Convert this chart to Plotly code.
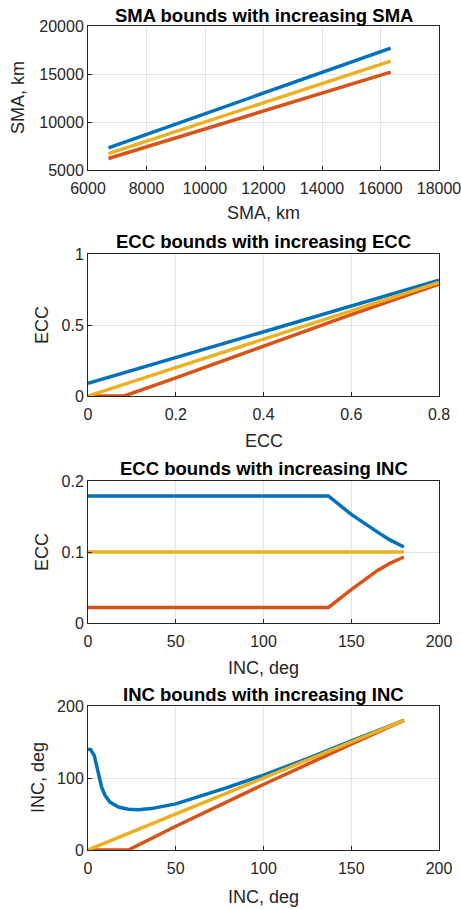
import plotly.graph_objects as go

# ---------------- data ----------------
# Panel 1: SMA bounds with increasing SMA
sma_x = [6700, 16350]
sma_upper = [7300, 17700]
sma_lower = [6200, 15200]
sma_nominal = [6700, 16350]

# Panel 2: ECC bounds with increasing ECC
ecc_x_up = [0.0, 0.2, 0.4, 0.6, 0.8]
ecc_upper = [0.089, 0.27, 0.45, 0.63, 0.815]
ecc_x_low = [0.0, 0.083, 0.2, 0.4, 0.6, 0.8]
ecc_lower = [0.0, 0.0, 0.128, 0.352, 0.573, 0.787]
ecc_x_nom = [0.0, 0.8]
ecc_nominal = [0.0, 0.8]

# Panel 3: ECC bounds with increasing INC
inc3_x = [0, 137, 150, 158, 165, 172, 180]
ecc3_upper = [0.179, 0.179, 0.153, 0.139, 0.128, 0.117, 0.107]
ecc3_lower = [0.022, 0.022, 0.047, 0.062, 0.074, 0.084, 0.093]
inc3_x_nom = [0, 180]
ecc3_nominal = [0.1, 0.1]

# Panel 4: INC bounds with increasing INC
inc4_x_up = [0, 1.5, 3.6, 5, 6.3, 7.8, 9.7, 12.5, 17.3, 23, 28.7, 36, 50, 63, 77, 100, 125, 150, 180]
inc4_upper = [140, 139.5, 131, 117, 101, 87, 76, 66.5, 59.7, 56.6, 56, 57.5, 64, 74, 85, 104, 127, 151.5, 180]
inc4_x_low = [0, 23, 50, 100, 150, 180]
inc4_lower = [0, 0, 33, 91, 147, 180]
inc4_x_nom = [0, 180]
inc4_nominal = [0, 180]

BLUE = "#0072BD"
RED = "#D95319"
YELLOW = "#EDB120"
TXT = "#262626"
LW = 3.5
FONT = "Liberation Sans, Arial, sans-serif"

W, H = 461, 909
panels = [  # top, bottom (pixels)
    (26, 170),
    (254, 396),
    (481, 623),
    (706, 850),
]


def fy(px):
    return 1 - px / H


def fx(px):
    return px / W


fig = go.Figure()

series = [
    [(sma_x, sma_upper, BLUE), (sma_x, sma_lower, RED), (sma_x, sma_nominal, YELLOW)],
    [(ecc_x_up, ecc_upper, BLUE), (ecc_x_low, ecc_lower, RED), (ecc_x_nom, ecc_nominal, YELLOW)],
    [(inc3_x, ecc3_upper, BLUE), (inc3_x, ecc3_lower, RED), (inc3_x_nom, ecc3_nominal, YELLOW)],
    [(inc4_x_up, inc4_upper, BLUE), (inc4_x_low, inc4_lower, RED), (inc4_x_nom, inc4_nominal, YELLOW)],
]

xranges = [[6000, 18000], [0, 0.8], [0, 200], [0, 200]]
yranges = [[5000, 20000], [0, 1], [0, 0.2], [0, 200]]
xticks = [[6000, 8000, 10000, 12000, 14000, 16000, 18000], [0, 0.2, 0.4, 0.6, 0.8], [0, 50, 100, 150, 200], [0, 50, 100, 150, 200]]
xticktext = [["6000", "8000", "10000", "12000", "14000", "16000", "18000"], ["0", "0.2", "0.4", "0.6", "0.8"], ["0", "50", "100", "150", "200"], ["0", "50", "100", "150", "200"]]
yticks = [[5000, 10000, 15000, 20000], [0, 0.5, 1], [0, 0.1, 0.2], [0, 100, 200]]
yticktext = [["5000", "10000", "15000", "20000"], ["0", "0.5", "1"], ["0", "0.1", "0.2"], ["0", "100", "200"]]
titles = ["SMA bounds with increasing SMA", "ECC bounds with increasing ECC",
          "ECC bounds with increasing INC", "INC bounds with increasing INC"]
xlabels = ["SMA, km", "ECC", "INC, deg", "INC, deg"]
ylabels = ["SMA, km", "ECC", "ECC", "INC, deg"]
title_y = [16, 241, 468, 694]
xlabel_y = [213, 441, 668, 897]
ylabel_x = [18, 42, 42, 38]

annotations = []
for i in range(4):
    n = "" if i == 0 else str(i + 1)
    for xs, ys, col in series[i]:
        fig.add_trace(go.Scatter(x=xs, y=ys, mode="lines", line=dict(color=col, width=LW),
                                 xaxis="x" + n, yaxis="y" + n, showlegend=False,
                                 cliponaxis=True))
    top, bot = panels[i]
    common = dict(showline=True, linecolor=TXT, linewidth=1, mirror=True,
                  showgrid=True, gridcolor="#e3e3e3", gridwidth=1,
                  zeroline=False, ticks="inside", ticklen=4, tickcolor=TXT,
                  tickfont=dict(family=FONT, size=16, color=TXT),
                  tickmode="array", automargin=False, ticklabeloverflow="allow")
    fig.layout["xaxis" + n] = dict(domain=[fx(88), fx(439)], anchor="y" + n, range=xranges[i],
                                   tickvals=xticks[i], ticktext=xticktext[i],
                                   ticklabelstandoff=4, **common)
    fig.layout["yaxis" + n] = dict(domain=[fy(bot), fy(top)], anchor="x" + n, range=yranges[i],
                                   tickvals=yticks[i], ticktext=yticktext[i], **common)
    cx = fx((88 + 439) / 2)
    annotations.append(dict(text="<b>" + titles[i] + "</b>", x=cx, y=fy(title_y[i]), xref="paper", yref="paper",
                            xanchor="center", yanchor="middle", showarrow=False,
                            font=dict(family=FONT, size=18.5, color="#000000")))
    annotations.append(dict(text=xlabels[i], x=cx, y=fy(xlabel_y[i]), xref="paper", yref="paper",
                            xanchor="center", yanchor="middle", showarrow=False,
                            font=dict(family=FONT, size=18, color=TXT)))
    annotations.append(dict(text=ylabels[i], x=fx(ylabel_x[i]), y=fy((top + bot) / 2), xref="paper", yref="paper",
                            xanchor="center", yanchor="middle", showarrow=False, textangle=-90,
                            font=dict(family=FONT, size=18, color=TXT)))

fig.update_layout(width=W, height=H, margin=dict(l=0, r=0, t=0, b=0),
                  paper_bgcolor="white", plot_bgcolor="white",
                  annotations=annotations, showlegend=False, hovermode=False)

fig.write_html("out.html", config={"displayModeBar": False},
               post_script="document.body.style.margin='0px';document.body.style.overflow='hidden';")
